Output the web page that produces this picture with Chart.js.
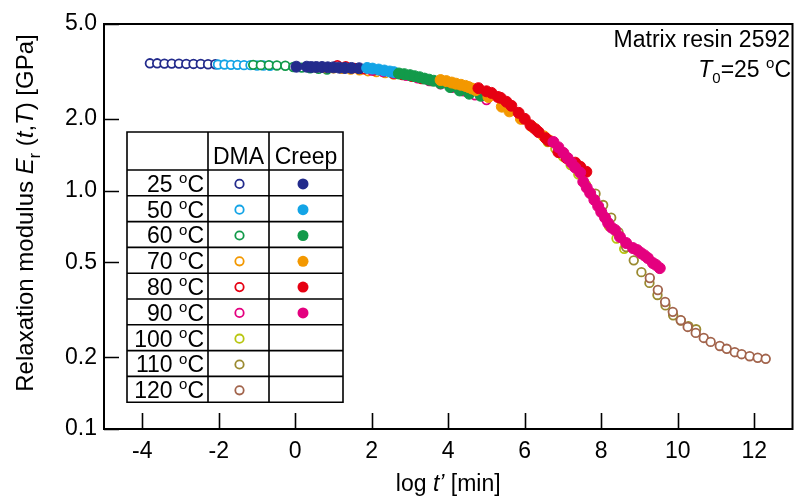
<!DOCTYPE html>
<html lang="en">
<head>
<meta charset="UTF-8">
<title>Relaxation modulus master curve</title>
<script src="https://cdn.jsdelivr.net/npm/chart.js@4.4.0/dist/chart.umd.min.js"></script>
<style>
  html, body { margin: 0; padding: 0; background: #fff; }
  #wrap { width: 799px; height: 500px; position: relative; }
</style>
</head>
<body>
<div id="wrap"><canvas id="chart"></canvas></div>
<script>
const FONT = "'Liberation Sans', Arial, Helvetica, sans-serif";

// tick labels
const xTicks = [-4, -2, 0, 2, 4, 6, 8, 10, 12];
const yTicks = [0.1, 0.2, 0.5, 1.0, 2.0, 5.0];

// legend rows
const temps = ['25', '50', '60', '70', '80', '90', '100', '110', '120'];
const dmaColors = ['#232b8c', '#13a4e6', '#129a4a', '#f39800', '#e60012', '#e4007f', '#b8c610', '#9a8a30', '#a2644c'];
const creepColors = ['#232b8c', '#13a4e6', '#129a4a', '#f39800', '#e60012', '#e4007f'];

// DMA data, [log t', Er (GPa)]
const dma25 = [[-3.80, 3.42], [-3.61, 3.42], [-3.42, 3.41], [-3.23, 3.41], [-3.04, 3.41], [-2.85, 3.40], [-2.66, 3.40], [-2.47, 3.40], [-2.28, 3.39], [-2.09, 3.39]];
const dma50 = [[-2.02, 3.38], [-1.85, 3.38], [-1.68, 3.37], [-1.51, 3.37], [-1.34, 3.36], [-1.17, 3.36], [-1.00, 3.35], [-0.83, 3.35], [-0.66, 3.34]];
const dma60 = [[-1.10, 3.37], [-0.90, 3.36], [-0.69, 3.36], [-0.48, 3.35], [-0.26, 3.34], [-0.05, 3.30], [0.17, 3.28], [0.39, 3.26], [0.61, 3.24], [0.83, 3.22]];
const dma70 = [[0.55, 3.28], [0.78, 3.27], [1.00, 3.26], [1.22, 3.24], [1.45, 3.22], [1.68, 3.20], [1.90, 3.17], [2.12, 3.14], [2.35, 3.11], [2.58, 3.07]];
const dma80 = [[1.10, 3.36], [1.32, 3.33], [1.55, 3.27], [1.80, 3.23], [2.05, 3.19], [2.30, 3.15], [2.55, 3.10], [2.80, 3.05], [3.05, 3.00], [3.30, 2.94], [3.55, 2.88]];
const dma90 = [[2.00, 3.19], [2.30, 3.14], [2.60, 3.09], [2.90, 3.03], [3.20, 2.96], [3.50, 2.88], [3.80, 2.79], [4.10, 2.70], [4.40, 2.61], [4.70, 2.51], [5.00, 2.40]];
const dma100 = [[6.60, 1.60], [6.80, 1.50], [7.00, 1.39], [7.20, 1.28], [7.40, 1.17], [7.60, 1.06], [7.80, 0.94], [8.00, 0.83], [8.20, 0.71], [8.40, 0.63], [8.60, 0.57]];
const dma110 = [[7.85, 0.97], [8.05, 0.87], [8.26, 0.77], [8.45, 0.67], [8.65, 0.58], [8.85, 0.51], [9.05, 0.455], [9.26, 0.41], [9.47, 0.365], [9.68, 0.33], [9.88, 0.30], [10.08, 0.285], [10.28, 0.27], [10.48, 0.262]];
const dma120 = [[9.27, 0.430], [9.48, 0.383], [9.67, 0.341], [9.87, 0.310], [10.08, 0.286], [10.26, 0.268], [10.47, 0.253], [10.68, 0.241], [10.86, 0.232], [11.10, 0.223], [11.28, 0.217], [11.49, 0.210], [11.67, 0.206], [11.88, 0.202], [12.09, 0.199], [12.30, 0.197]];

// creep data
const creep25 = [[0.03, 3.31], [0.30, 3.31], [0.42, 3.30], [0.55, 3.30], [0.70, 3.30], [0.85, 3.29], [1.00, 3.29], [1.15, 3.28], [1.30, 3.27], [1.47, 3.27], [1.67, 3.26]];
const creep50 = [[1.88, 3.27], [2.02, 3.25], [2.18, 3.22], [2.33, 3.19], [2.47, 3.16], [2.58, 3.14]];
const creep60 = [[2.71, 3.10], [2.85, 3.08], [3.00, 3.05], [3.12, 3.02], [3.25, 2.99], [3.38, 2.95], [3.50, 2.92], [3.62, 2.89], [3.80, 2.82], [4.05, 2.72], [4.30, 2.63], [4.55, 2.55], [4.85, 2.50]];
const creep70 = [[3.80, 2.91], [3.95, 2.88], [4.09, 2.84], [4.20, 2.81], [4.33, 2.78], [4.45, 2.75], [4.53, 2.72], [4.62, 2.68], [4.72, 2.64], [5.05, 2.47], [5.40, 2.25], [5.60, 2.15], [5.90, 2.00], [6.20, 1.85], [6.50, 1.69], [6.65, 1.62]];
const creep80 = [[4.79, 2.69], [5.00, 2.61], [5.13, 2.57], [5.30, 2.47], [5.37, 2.45], [5.52, 2.36], [5.65, 2.27], [5.84, 2.12], [6.00, 2.00], [6.15, 1.88], [6.28, 1.81], [6.36, 1.76], [6.55, 1.66], [6.62, 1.62], [6.88, 1.45], [7.09, 1.37], [7.32, 1.31], [7.45, 1.26], [7.61, 1.20]];
const creep90 = [[6.75, 1.60], [6.88, 1.52], [7.01, 1.44], [7.12, 1.37], [7.22, 1.31], [7.32, 1.25], [7.45, 1.19], [7.53, 1.09], [7.62, 1.03], [7.71, 0.977], [7.82, 0.914], [7.92, 0.86], [8.00, 0.813], [8.10, 0.77], [8.18, 0.731], [8.27, 0.70], [8.36, 0.684], [8.49, 0.639], [8.65, 0.603], [8.83, 0.574], [8.94, 0.563], [9.04, 0.547], [9.13, 0.535], [9.22, 0.521], [9.35, 0.497], [9.43, 0.488], [9.53, 0.473]];

const dmaSets = [dma25, dma50, dma60, dma70, dma80, dma90, dma100, dma110, dma120];
const creepSets = [creep25, creep50, creep60, creep70, creep80, creep90];

const toPts = arr => arr.map(p => ({ x: p[0], y: p[1] }));

// later series sit on top, creep above DMA
const total = dmaSets.length + creepSets.length;
const datasets = [];
dmaSets.forEach((d, i) => datasets.push({
    label: 'DMA ' + temps[i],
    data: toPts(d),
    pointStyle: 'circle',
    pointRadius: 4.3,
    pointBorderWidth: 1.8,
    borderColor: dmaColors[i],
    backgroundColor: '#ffffff',
    showLine: false,
    order: total - i
}));
creepSets.forEach((d, i) => datasets.push({
    label: 'Creep ' + temps[i],
    data: toPts(d),
    pointStyle: 'circle',
    pointRadius: 5.5,
    pointBorderWidth: 1,
    borderColor: creepColors[i],
    backgroundColor: creepColors[i],
    showLine: false,
    order: total - dmaSets.length - i
}));

function fontFor(p, size) {
    const s = (p.sub || p.sup) ? Math.round(size * 0.65) : size;
    return (p.it ? 'italic ' : '') + s + 'px ' + FONT;
}

function drawRich(ctx, parts, x, y, size, align) {
    let w = 0;
    parts.forEach(p => { ctx.font = fontFor(p, size); w += ctx.measureText(p.t).width; });
    let cx = align === 'right' ? x - w : (align === 'center' ? x - w / 2 : x);
    ctx.textAlign = 'left';
    ctx.textBaseline = 'alphabetic';
    parts.forEach(p => {
        ctx.font = fontFor(p, size);
        const dy = p.sub ? size * 0.28 : (p.sup ? -size * 0.38 : 0);
        ctx.fillText(p.t, cx, y + dy);
        cx += ctx.measureText(p.t).width;
    });
}

const decor = {
    id: 'decor',
    afterDraw(chart) {
        const ctx = chart.ctx;
        const a = chart.chartArea;
        const xs = chart.scales.x, ys = chart.scales.y;
        ctx.save();
        ctx.strokeStyle = '#000';
        ctx.fillStyle = '#000';

        // frame and inward ticks
        ctx.lineWidth = 2;
        ctx.strokeRect(a.left, a.top, a.right - a.left, a.bottom - a.top);
        ctx.lineWidth = 1.6;
        ctx.beginPath();
        xTicks.forEach(v => {
            const px = Math.round(xs.getPixelForValue(v)) + 0.5;
            ctx.moveTo(px, a.bottom);
            ctx.lineTo(px, a.bottom - 16);
        });
        yTicks.forEach(v => {
            const py = Math.round(ys.getPixelForValue(v)) + 0.5;
            ctx.moveTo(a.left, py);
            ctx.lineTo(a.left + 15, py);
        });
        ctx.stroke();

        // axis titles
        drawRich(ctx, [{ t: 'log ' }, { t: 't\u2019', it: true }, { t: ' [min]' }], (a.left + a.right) / 2, 491, 23, 'center');
        ctx.save();
        ctx.translate(33, 213);
        ctx.rotate(-Math.PI / 2);
        drawRich(ctx, [
            { t: 'Relaxation modulus ' }, { t: 'E', it: true }, { t: 'r', sub: true },
            { t: ' (' }, { t: 't', it: true }, { t: ',' }, { t: 'T', it: true }, { t: ') [GPa]' }
        ], 0, 0, 24, 'center');
        ctx.restore();

        // annotation
        drawRich(ctx, [{ t: 'Matrix resin 2592' }], 790, 47, 23, 'right');
        drawRich(ctx, [{ t: 'T', it: true }, { t: '0', sub: true }, { t: '=25 ' }, { t: 'o', sup: true }, { t: 'C' }], 791, 77, 23, 'right');

        // legend table
        const L = 127, C1 = 208, C2 = 269, R = 343, T = 132, H = 170, rowH = 25.8;
        const B = H + rowH * temps.length;
        ctx.fillStyle = '#fff';
        ctx.fillRect(L, T, R - L, B - T);
        ctx.fillStyle = '#000';
        ctx.lineWidth = 1.6;
        ctx.beginPath();
        ctx.rect(L, T, R - L, B - T);
        [C1, C2].forEach(cx => { ctx.moveTo(cx, T); ctx.lineTo(cx, B); });
        for (let i = 0; i < temps.length; i++) {
            const yy = H + rowH * i;
            ctx.moveTo(L, yy);
            ctx.lineTo(R, yy);
        }
        ctx.stroke();

        drawRich(ctx, [{ t: 'DMA' }], (C1 + C2) / 2, 164, 23, 'center');
        drawRich(ctx, [{ t: 'Creep' }], (C2 + R) / 2, 164, 23, 'center');

        temps.forEach((t, i) => {
            const top = H + rowH * i;
            ctx.fillStyle = '#000';
            drawRich(ctx, [{ t: t + ' ' }, { t: 'o', sup: true }, { t: 'C' }], C1 - 4, top + rowH - 4, 23, 'right');
            const cy = top + rowH / 2 + 1;
            ctx.lineWidth = 1.8;
            ctx.strokeStyle = dmaColors[i];
            ctx.fillStyle = '#fff';
            ctx.beginPath();
            ctx.arc((C1 + C2) / 2 + 1, cy, 4.2, 0, Math.PI * 2);
            ctx.fill();
            ctx.stroke();
            if (i < creepColors.length) {
                ctx.fillStyle = creepColors[i];
                ctx.beginPath();
                ctx.arc((C2 + R) / 2 - 3, cy, 5.5, 0, Math.PI * 2);
                ctx.fill();
            }
        });
        ctx.restore();
    }
};

const tickFont = { family: FONT, size: 23 };

new Chart(document.getElementById('chart'), {
    type: 'scatter',
    data: { datasets: datasets },
    plugins: [decor],
    options: {
        responsive: true,
        maintainAspectRatio: false,
        animation: false,
        devicePixelRatio: 1,
        layout: { padding: { top: 24, right: 4, left: 0, bottom: 0 } },
        plugins: {
            legend: { display: false },
            tooltip: { enabled: false }
        },
        scales: {
            x: {
                type: 'linear',
                position: 'bottom',
                min: -5,
                max: 13,
                grid: { display: false, drawTicks: false },
                border: { display: false },
                afterBuildTicks: s => { s.ticks = xTicks.map(v => ({ value: v })); },
                afterFit: s => { s.height = 71; },
                ticks: {
                    color: '#000',
                    font: tickFont,
                    padding: 9,
                    maxRotation: 0,
                    callback: v => String(v)
                }
            },
            y: {
                type: 'logarithmic',
                min: 0.1,
                max: 5,
                grid: { display: false, drawTicks: false },
                border: { display: false },
                afterBuildTicks: s => { s.ticks = yTicks.map(v => ({ value: v })); },
                afterFit: s => { s.width = 104; },
                ticks: {
                    color: '#000',
                    font: tickFont,
                    padding: 7,
                    callback: v => Number(v).toFixed(1)
                }
            }
        }
    }
});
</script>
</body>
</html>
